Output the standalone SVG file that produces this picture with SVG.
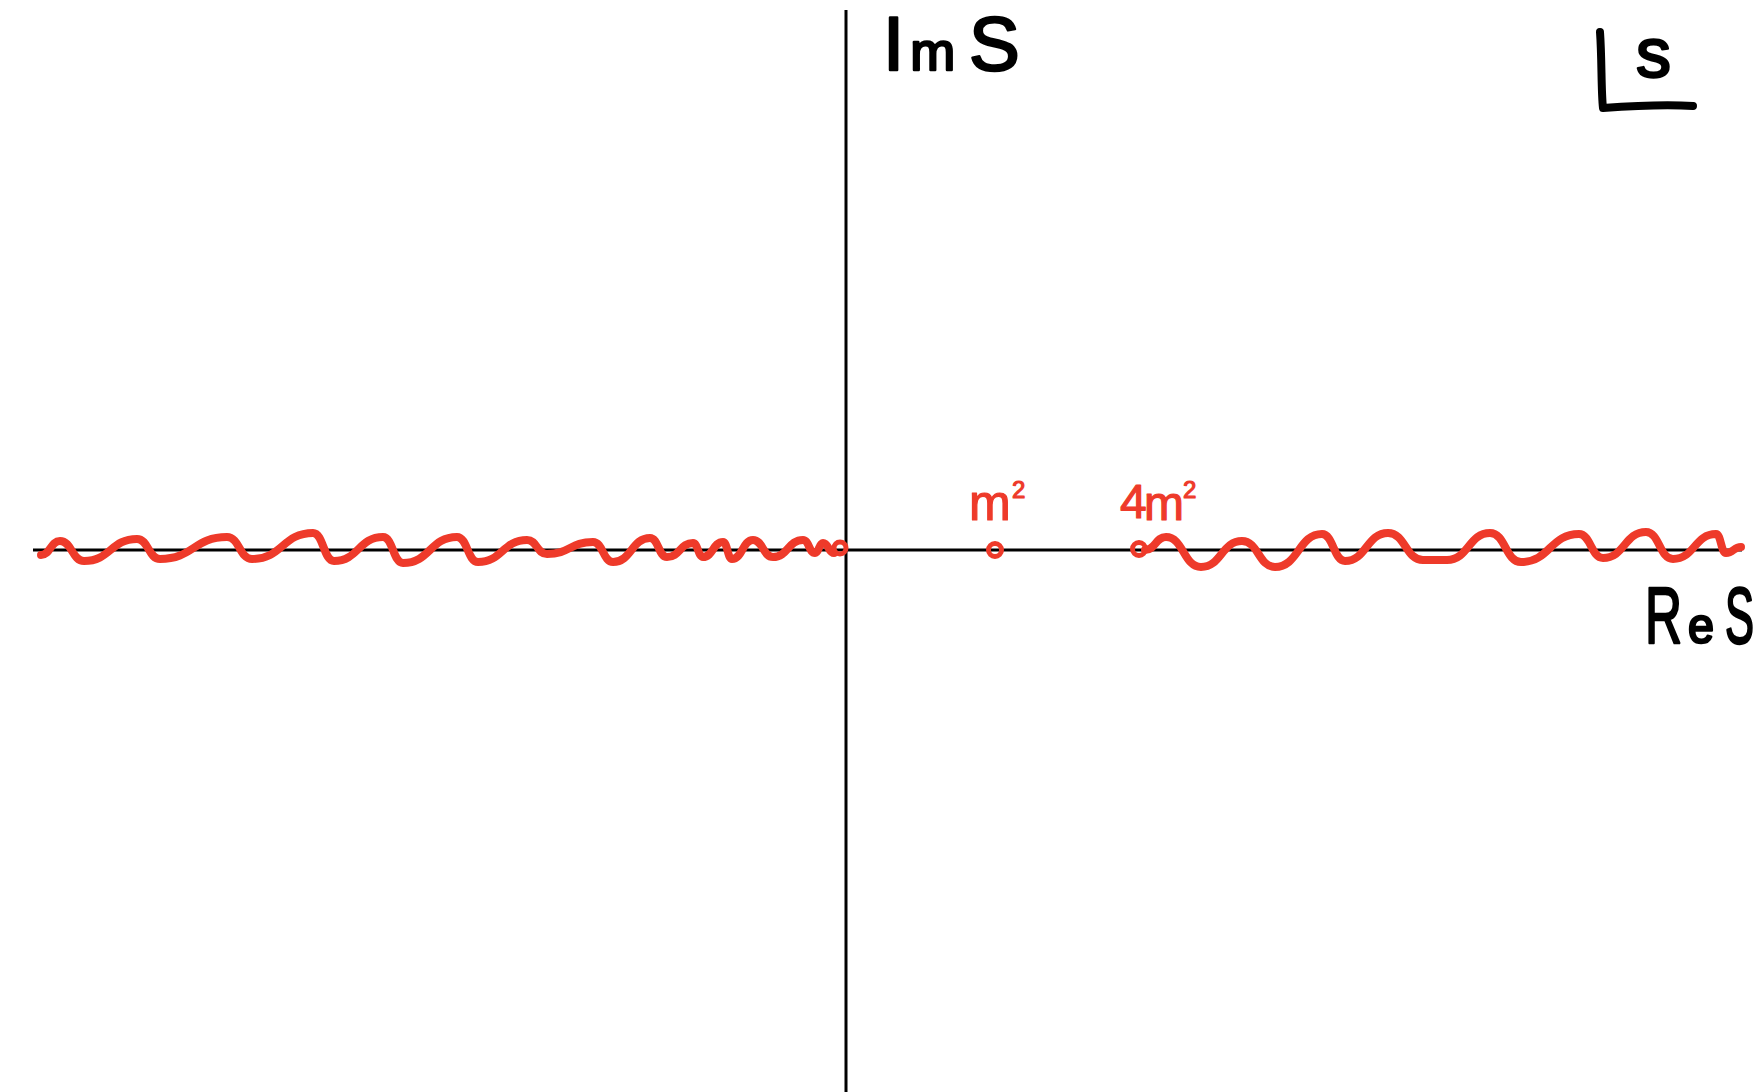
<svg xmlns="http://www.w3.org/2000/svg" width="1762" height="1092" viewBox="0 0 1762 1092">
<style>
.axis{stroke:#000;stroke-width:3;fill:none}
.cut{stroke:#ee3a2a;stroke-width:8;fill:none;stroke-linecap:round;stroke-linejoin:round}
.pt{stroke:#ee3a2a;stroke-width:5;fill:none}
.blk{font-family:"Liberation Sans",Arial,sans-serif;fill:#000;stroke:#000;stroke-width:2.5;stroke-linejoin:round}
.red{font-family:"Liberation Sans",Arial,sans-serif;fill:#ee3a2a;stroke:#ee3a2a;stroke-width:1.2;stroke-linejoin:round}
</style>
<rect width="1762" height="1092" fill="#fff"/>
<g id="axes">
<line class="axis" x1="33" y1="550" x2="1742" y2="550"/>
<line class="axis" x1="846" y1="10" x2="846" y2="1092"/>
</g>
<g id="connectors">
<path class="cut" d="M41,555 C50.5,555 50.5,541 60,541 C72,541 72,561 84,561 C110.5,561 110.5,539 137,539 C148.5,539 148.5,559 160,559 C193.5,559 193.5,537 227,537 C239.5,537 239.5,559 252,559 C282.5,559 282.5,533 313,533 C323.5,533 323.5,561 334,561 C358.5,561 358.5,537 383,537 C393,537 393,563 403,563 C430,563 430,537 457,537 C467.5,537 467.5,562 478,562 C502.5,562 502.5,540 527,540 C537,540 537,554 547,554 C570,554 570,542 593,542 C603,542 603,562 613,562 C631.5,562 631.5,538 650,538 C658.5,538 658.5,557 667,557 C680,557 680,543 693,543 C698,543 698,557 703,557 C713,557 713,542 723,542 C727.5,542 727.5,559 732,559 C742.5,559 742.5,540 753,540 C763,540 763,557 773,557 C788,557 788,540 803,540 C809,540 809,553 815,553 C819,553 819,543 823,543 C828.5,543 828.5,553 834,553"/>
<circle class="pt" cx="840" cy="548" r="6"/>
<path class="cut" d="M1145,550 C1155.5,550 1155.5,537 1166,537 C1183.5,537 1183.5,567 1201,567 C1221.5,567 1221.5,541 1242,541 C1258.5,541 1258.5,567 1275,567 C1298.5,567 1298.5,534 1322,534 C1333.5,534 1333.5,561 1345,561 C1366.5,561 1366.5,533 1388,533 C1405.5,533 1405.5,560 1423,560 L1447,560 C1468.5,560 1468.5,533 1490,533 C1505.5,533 1505.5,562 1521,562 C1550,562 1550,534 1579,534 C1591,534 1591,558 1603,558 C1624.5,558 1624.5,532 1646,532 C1659.5,532 1659.5,559 1673,559 C1694.5,559 1694.5,534 1716,534 C1721,534 1721,553 1726,553 C1733.5,553 1733.5,547 1741,547"/>
</g>
<g id="m2">
<circle class="pt" cx="995" cy="550" r="6.5"/>
<text class="red" x="969" y="520" font-size="50">m</text>
<text class="red" x="1012" y="498" font-size="24">2</text>
</g>
<g id="4m2">
<circle class="pt" cx="1139" cy="549" r="6.5"/>
<text class="red" x="1120" y="518" font-size="48">4</text>
<text class="red" x="1144" y="520" font-size="48">m</text>
<text class="red" x="1183" y="498" font-size="24">2</text>
</g>
<g id="ImS">
<text class="blk" x="883" y="70" font-size="76">I<tspan font-size="54" dx="6">m</tspan><tspan dx="14">S</tspan></text>
</g>
<g id="ReS">
<text class="blk" x="1645" y="643" font-size="80" textLength="37" lengthAdjust="spacingAndGlyphs">R</text>
<text class="blk" x="1688" y="643" font-size="50" textLength="26" lengthAdjust="spacingAndGlyphs">e</text>
<text class="blk" x="1725" y="643" font-size="80" textLength="29" lengthAdjust="spacingAndGlyphs">S</text>
</g>
<g id="splane">
<path d="M1600,32 C1602,60 1601,90 1603,108 C1630,106 1665,104 1693,106" stroke="#000" stroke-width="8" fill="none" stroke-linecap="round" stroke-linejoin="round"/>
<text class="blk" x="1636" y="77" font-size="70">s</text>
</g>
</svg>
